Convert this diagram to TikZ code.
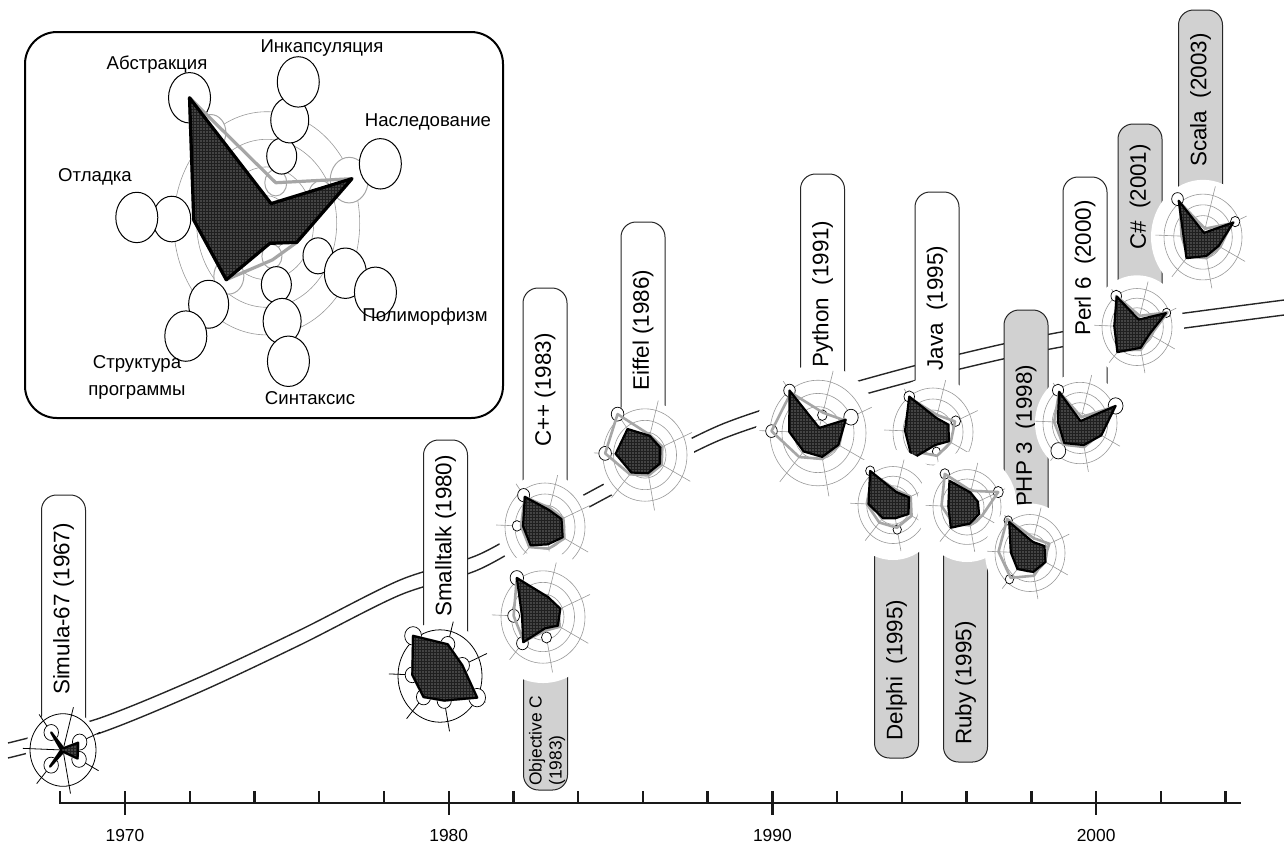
\documentclass[tikz,border=0pt]{standalone}
\usepackage{fontspec}
\setmainfont{Liberation Sans}
\usetikzlibrary{patterns.meta}

\tikzset{
    ring/.style={draw=gray!80, line width=0.3pt},
    oldring/.style={draw=black, line width=0.4pt},
    vdot/.style={draw=black, fill=white, line width=0.35pt},
    graypoly/.style={draw=gray!70, line width=1.3pt, line join=round},
    blackpoly/.style={draw=black, line width=1.1pt, line join=round,
        preaction={fill=black!88}, pattern={Dots[distance=1.5pt, radius=0.33pt]},
        pattern color=white!75!black}
}

% radar: name, centre, R, ring style, ring list, black, gray, dots k/f/r, halo
\newcommand{\radar}[9]{%
    \begin{scope}[shift={(#2)}, yscale=-1.1]
        \fill[white] (0,0) circle[radius=#9];
        \foreach \fr in {#5} \draw[#4] (0,0) circle[radius=\fr*#3];
        \foreach \kk in {0,...,6} \draw[#4] (0,0) -- ({75-51.43*\kk}:{1.22*#3});
        \foreach \kk/\fr/\rr in {#8} \draw[vdot] ({75-51.43*\kk}:{\fr*#3}) circle[radius=\rr*#3];
        \foreach \val [count=\kk from 0] in {#7} \coordinate (#1g\kk) at ({75-51.43*\kk}:{\val*#3});
        \foreach \val [count=\kk from 0] in {#6} \coordinate (#1b\kk) at ({75-51.43*\kk}:{\val*#3});
        \draw[graypoly] (#1g0) -- (#1g1) -- (#1g2) -- (#1g3) -- (#1g4) -- (#1g5) -- (#1g6) -- cycle;
        \draw[blackpoly] (#1b0) -- (#1b1) -- (#1b2) -- (#1b3) -- (#1b4) -- (#1b5) -- (#1b6) -- cycle;
    \end{scope}}

\begin{document}
\begin{tikzpicture}[
    x=0.5pt, y=-0.5pt,
    road/.style={draw=black!85, line width=0.7pt},
    langbox/.style={draw=black!85, line width=0.5pt, rounded corners=7.5pt},
    langtext/.style={rotate=90, font=\fontsize{11.2}{13}\selectfont, inner sep=0pt},
    smalltext/.style={rotate=90, font=\fontsize{8.7}{10}\selectfont, inner sep=0pt, align=left},
    insetlabel/.style={font=\fontsize{9.3}{13.5}\selectfont, align=center, inner sep=0pt},
    yearlabel/.style={font=\fontsize{8.7}{10}\selectfont, inner sep=0pt},
    axisline/.style={draw=black!90, line width=1.2pt}
]
\useasboundingbox (0,0) rectangle (1284,843);

%% ---- road of the languages ----
\foreach \dy in {0,15}
    \draw[road, shift={(0,\dy)}] plot[smooth] coordinates {(8,743) (100,718) (200,677)
        (300,630) (400,580) (480,554) (560,508) (640,465) (720,425) (800,398) (880,375)
        (960,354) (1040,336) (1120,322) (1200,311) (1284,300)};

%% ---- time axis ----
\draw[axisline] (60,791) -- (60,803) -- (1241,803);
\foreach \yr in {1970,1972,...,2004}
    \draw[axisline] ({125+(\yr-1970)*32.37},803) -- ++(0,-12);
\foreach \yr in {1970,1980,1990,2000} {
    \draw[axisline] ({125+(\yr-1970)*32.37},803) -- ++(0,12);
    \node[yearlabel] (y\yr) at ({125+(\yr-1970)*32.37},835) {\yr};
}

%% ---- label boxes ----
\draw[langbox, fill=white]    (41.5,750)  rectangle (85.5,495);
\draw[langbox, fill=white]    (423.5,676) rectangle (467.5,440);
\draw[langbox, fill=white]    (523,527)   rectangle (567,288);
\draw[langbox, fill=black!18] (523.5,617) rectangle (567.5,790);
\draw[langbox, fill=white]    (621,455)   rectangle (665,222);
\draw[langbox, fill=white]    (800.5,433) rectangle (844.5,174);
\draw[langbox, fill=white]    (915,432)   rectangle (959,192);
\draw[langbox, fill=black!18] (874.5,505) rectangle (918.5,758);
\draw[langbox, fill=black!18] (943.5,507) rectangle (987.5,762);
\draw[langbox, fill=black!18] (1004,585)  rectangle (1048,310);
\draw[langbox, fill=white]    (1063,423)  rectangle (1107,177);
\draw[langbox, fill=black!18] (1118,327)  rectangle (1162,124);
\draw[langbox, fill=black!18] (1178.5,237) rectangle (1222.5,10);

\node[langtext] (simula)    at (63.5,609)  {Simula-67 (1967)};
\node[langtext] (smalltalk) at (445.5,536) {Smalltalk (1980)};
\node[langtext] (cpp)       at (545,390)   {C++ (1983)};
\node[smalltext, anchor=west] (objc) at (547,786) {Objective C\\(1983)};
\node[langtext] (eiffel)    at (643,330)   {Eiffel (1986)};
\node[langtext] (python)    at (822.5,294) {Python\ \ (1991)};
\node[langtext] (java)      at (937,308)   {Java\ \ (1995)};
\node[langtext] (delphi)    at (896.5,670) {Delphi\ \ (1995)};
\node[langtext] (ruby)      at (965.5,683) {Ruby (1995)};
\node[langtext] (php)       at (1026,436)  {PHP 3\ \ (1998)};
\node[langtext] (perl)      at (1085,268)  {Perl 6\ \ (2000)};
\node[langtext] (csharp)    at (1140,197)  {C\#\ \ (2001)};
\node[langtext] (scala)     at (1200.5,100) {Scala\ \ (2003)};

%% ---- radars along the road ----
\radar{sim}{63,750}{33}{oldring}{1}{.05,.5,.5,.05,.6,.05,.6}{.05,.5,.5,.05,.6,.05,.6}
    {6/.6/.22, 1/.55/.22, 2/.55/.22, 4/.55/.22}{37}
\radar{st}{440,676}{42}{oldring}{1}{.71,.58,1.0,.54,.6,.66,1.08}{.71,.58,1.0,.54,.6,.66,1.08}
    {0/.71/.17, 1/.58/.17, 2/1.0/.2, 3/.54/.17, 4/.6/.17, 5/.66/.17, 6/1.08/.2}{49}
\radar{cp}{545,527}{40}{ring}{0.25,0.5,0.75,1}{.4,.45,.5,.4,.55,.55,.85}{.45,.5,.55,.5,.6,.6,.85}
    {6/.9/.15, 5/.7/.12}{48}
\radar{oc}{543,617}{42}{ring}{0.25,0.5,0.75,1}{.45,.45,.4,.25,.72,.5,1.05}{.3,.4,.45,.3,.7,.7,1.05}
    {6/1.05/.16, 5/.7/.14, 4/.75/.14, 3/.45/.12}{60}
\radar{ei}{645,455}{42}{ring}{0.25,0.5,0.75,1}{.43,.4,.4,.4,.5,.7,.7}{.45,.45,.45,.45,.55,.95,1.1}
    {5/.95/.15, 6/1.1/.15}{49}
\radar{py}{818,433}{48}{ring}{0.25,0.5,0.75,1}{.1,.63,.48,.46,.46,.6,1.0}{.4,.6,.5,.5,.6,.97,.95}
    {6/1.0/.12, 1/.75/.15, 5/.97/.12, 0/.35/.1}{62}
\radar{ja}{933,432}{40}{ring}{0.25,0.5,0.75,1}{.33,.42,.45,.3,.8,.7,1.0}{.4,.6,.5,.55,.6,.6,.95}
    {6/1.0/.13, 1/.62/.12, 3/.45/.1}{50}
\radar{de}{893,505}{35}{ring}{0.25,0.5,0.75,1}{.35,.5,.5,.35,.45,.7,1.1}{.4,.55,.6,.6,.6,.75,1.0}
    {6/1.1/.13, 3/.65/.12, 5/.2/.1}{50}
\radar{ru}{967,507}{34}{ring}{0.25,0.5,0.75,1}{.4,.35,.4,.45,.73,.55,.87}{.45,1.0,.5,.5,.6,.75,1.1}
    {1/1.0/.15, 6/1.1/.14}{50}
\radar{ph}{1030,553}{35}{ring}{0.25,0.5,0.75,1}{.3,.45,.5,.5,.55,.55,1.0}{.4,.6,.45,.6,.85,.9,1.1}
    {6/1.05/.12, 4/.9/.12}{45}
\radar{pe}{1080,423}{37}{ring}{0.25,0.5,0.75,1}{.05,1.05,.65,.55,.65,.6,.95}{.15,1.0,.6,.6,.7,.7,.95}
    {6/1.0/.15, 1/1.05/.2, 4/.9/.2}{45}
\radar{cs}{1137,327}{35}{ring}{0.25,0.5,0.75,1}{.2,.9,.4,.55,.86,.65,.98}{.3,.95,.45,.6,.8,.6,1.0}
    {6/1.0/.15, 1/.92/.12, 5/.5/.1}{47}
\radar{sc}{1203,237}{39}{ring}{0.25,0.5,0.75,1}{.1,.85,.45,.45,.65,.5,1.05}{.2,.8,.5,.5,.6,.55,1.0}
    {6/1.1/.15, 1/.9/.12}{52}

%% ---- inset: the seven criteria ----
\draw[line width=1pt, rounded corners=16pt] (25,32) rectangle (503,418);
\begin{scope}[shift={(266.7,223.3)}, yscale=-1.2]
    \foreach \fr in {23,47,70,93} \draw[ring] (0,0) circle[radius=\fr];
    \foreach \kk/\dd/\rr/\cc in {0/35/11/gray!70, 0/58/15/black, 0/89/19/black, 0/122/21/black,
            1/59/12/gray!70, 1/90/19/gray!70, 1/124/21/black,
            2/58/15/black, 2/89/21/black, 2/123/21/black,
            3/28/10/gray!70, 3/52/15/black, 3/83/19/black, 3/117/21/black,
            4/58/15/gray!70, 4/89/20/black, 4/124/21/black,
            5/95/19/black, 5/130/21/black,
            6/94/15/gray!70, 6/130/21/black}
        \draw[draw=\cc, fill=white, line width=0.5pt] ({75-51.43*\kk}:\dd) circle[radius=\rr];
    \foreach \val [count=\kk from 0] in {35,93,34,31,62,73,130}
        \coordinate (ig\kk) at ({75-51.43*\kk}:\val);
    \foreach \val [count=\kk from 0] in {17,93,34,17,62,73,130}
        \coordinate (ib\kk) at ({75-51.43*\kk}:\val);
    \draw[graypoly, line width=1.6pt] (ig0) -- (ig1) -- (ig2) -- (ig3) -- (ig4) -- (ig5) -- (ig6) -- cycle;
    \draw[blackpoly, line width=1.6pt] (ib0) -- (ib1) -- (ib2) -- (ib3) -- (ib4) -- (ib5) -- (ib6) -- cycle;
\end{scope}

\node[insetlabel] (abstr)  at (157,65)  {Абстракция};
\node[insetlabel] (incaps) at (322,48)  {Инкапсуляция};
\node[insetlabel] (inher)  at (428,122) {Наследование};
\node[insetlabel] (debug)  at (95,177)  {Отладка};
\node[insetlabel] (poly)   at (425,317) {Полиморфизм};
\node[insetlabel] (struct) at (137,377) {Структура\\программы};
\node[insetlabel] (syntax) at (310,398) {Синтаксис};

\end{tikzpicture}
\end{document}
